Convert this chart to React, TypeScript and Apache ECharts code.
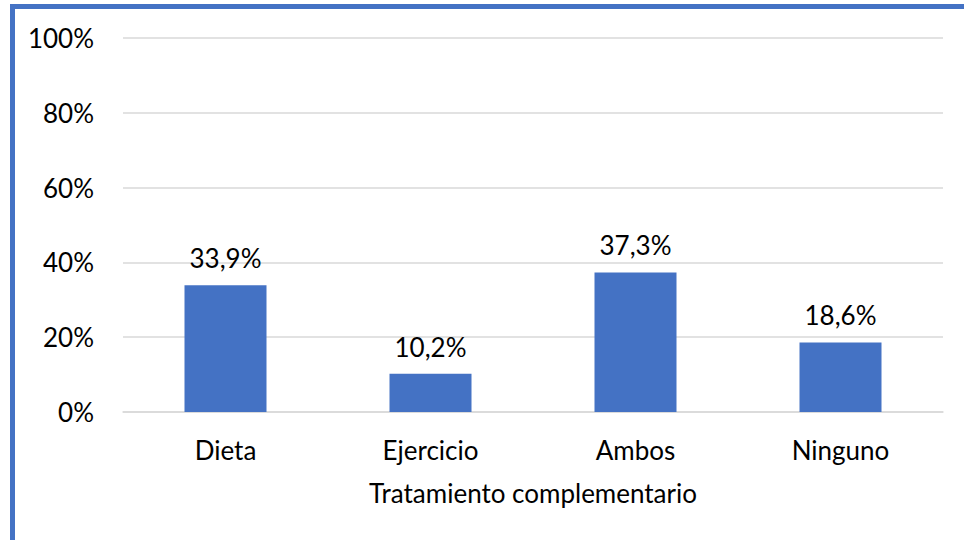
import React, { useEffect, useRef } from "react";
import * as echarts from "echarts";

const categories = ["Dieta", "Ejercicio", "Ambos", "Ninguno"];
const values = [33.9, 10.2, 37.3, 18.6];
const yTicks = [0, 20, 40, 60, 80, 100];
const axisTitle = "Tratamiento complementario";

export default function App() {
  const ref = useRef<HTMLDivElement>(null);
  useEffect(() => {
    const chart = echarts.init(ref.current!, null, { renderer: "svg" });
    const font = "Lato, 'Open Sans', sans-serif";
    chart.setOption({
      animation: false,
      backgroundColor: "#ffffff",
      textStyle: { fontFamily: font },
      graphic: [
        { type: "rect", shape: { x: 10, y: 4, width: 954, height: 5 }, style: { fill: "#4472C4" } },
        { type: "rect", shape: { x: 10, y: 4, width: 5, height: 536 }, style: { fill: "#4472C4" } },
      ],
      grid: { left: 123, right: 21, top: 38, bottom: 128, containLabel: false },
      xAxis: {
        type: "category",
        data: categories,
        axisTick: { show: false },
        axisLine: { lineStyle: { color: "#d9d9d9", width: 1.5 } },
        axisLabel: { color: "#000", fontSize: 26, fontFamily: font, margin: 25 },
        name: axisTitle,
        nameLocation: "middle",
        nameGap: 68,
        nameTextStyle: { color: "#000", fontSize: 26, fontFamily: font },
      },
      yAxis: {
        type: "value",
        min: yTicks[0],
        max: yTicks[yTicks.length - 1],
        interval: 20,
        axisLine: { show: false },
        axisTick: { show: false },
        splitLine: { lineStyle: { color: "#d9d9d9", width: 1.5 } },
        axisLabel: { color: "#000", fontSize: 26, fontFamily: font, margin: 29, formatter: "{value}%" },
      },
      series: [
        {
          type: "bar",
          data: values,
          barWidth: "40%",
          itemStyle: { color: "#4472C4" },
          label: {
            show: true,
            position: "top",
            distance: 14,
            color: "#000",
            fontSize: 26,
            fontFamily: font,
            formatter: (p: any) => p.value.toFixed(1).replace(".", ",") + "%",
          },
        },
      ],
    });
    return () => chart.dispose();
  }, []);
  return <div ref={ref} style={{ position: "fixed", left: 0, top: 0, width: 964, height: 540 }} />;
}
